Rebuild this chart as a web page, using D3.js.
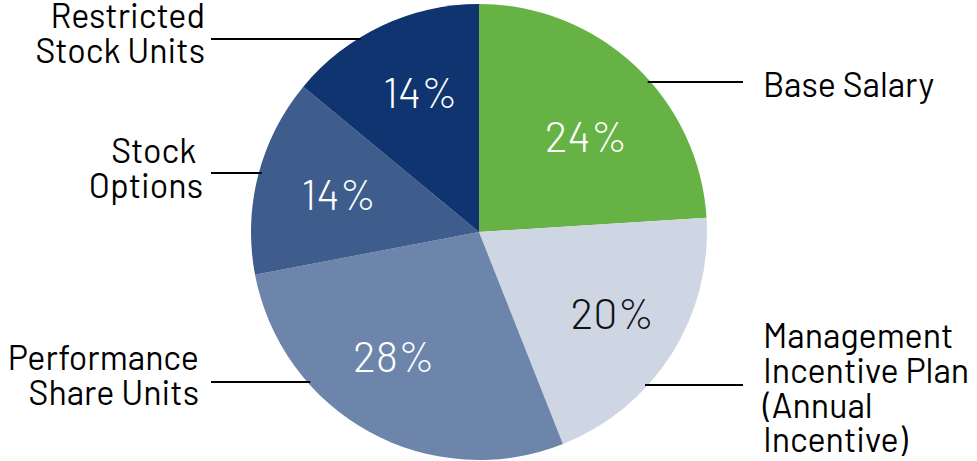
<!DOCTYPE html>
<html><head><meta charset="utf-8">
<script src="https://cdn.jsdelivr.net/npm/d3@7"></script>
<style>html,body{margin:0;padding:0;background:#fff;}svg{display:block;}</style>
</head><body>
<svg id="chart" width="977" height="461"></svg>
<script>
const categories = ["Base Salary", "Management Incentive Plan (Annual Incentive)", "Performance Share Units", "Stock Options", "Restricted Stock Units"];
const values = [24, 20, 28, 14, 14];
const labelLines = [["Base Salary"], ["Management", "Incentive Plan", "(Annual", "Incentive)"], ["Performance", "Share Units"], ["Stock ", "Options"], ["Restricted", "Stock Units"]];
const colors = ["#66b245", "#ced6e3", "#6d84ab", "#3e5d8c", "#0f346f"];
const pctColors = ["#ffffff", "#111111", "#ffffff", "#ffffff", "#ffffff"];

const svg = d3.select("#chart");
const cx = 479, cy = 232, R = 228;
const g = svg.append("g").attr("transform", `translate(${cx},${cy})`);
const pie = d3.pie().sort(null).value(d => d)(values);
const arc = d3.arc().innerRadius(0).outerRadius(R);
const labelArc = d3.arc().innerRadius(152).outerRadius(152);
// small manual nudges of percentage labels (layout only)
const nudges = [[3, 15], [5, 0], [-12, -9], [7, 0], [6, -2]];

g.selectAll("path.slice").data(pie).join("path")
  .attr("class", "slice")
  .attr("d", arc)
  .attr("fill", (d, i) => colors[i]);

const fontFam = "Barlow, Roboto, 'Noto Sans', sans-serif";
g.selectAll("text.pct").data(pie).join("text")
  .attr("class", "pct")
  .attr("transform", (d, i) => {
    const c = labelArc.centroid(d);
    return `translate(${c[0] + nudges[i][0]},${c[1] + nudges[i][1]})`;
  })
  .attr("text-anchor", "middle")
  .attr("dy", "0.36em")
  .attr("font-family", fontFam)
  .attr("font-weight", 300)
  .attr("font-size", 43)
  .attr("fill", (d, i) => pctColors[i])
  .text(d => d.data + "%");

const callouts = [
  {y: 82, side: "right", tx: 763, b: 97},
  {y: 385, side: "right", tx: 763, b: 348},
  {y: 382, side: "left", tx: 199, b: 370},
  {y: 173, side: "left", tx: 203, b: 163},
  {y: 39, side: "left", tx: 205, b: 28}
];
const lh = 34.8;
callouts.forEach((c, i) => {
  const dy = c.y - cy;
  const dx = Math.sqrt(R * R - dy * dy);
  const x1 = c.side === "right" ? cx + dx - 3 : cx - dx + 3;
  const x2 = c.side === "right" ? 743 : 211;
  svg.append("line")
    .attr("x1", x1).attr("x2", x2).attr("y1", c.y).attr("y2", c.y)
    .attr("stroke", "#000").attr("stroke-width", 2);
  const t = svg.append("text")
    .attr("font-family", fontFam)
    .attr("font-size", 34)
    .attr("fill", "#000")
    .attr("text-anchor", c.side === "right" ? "start" : "end");
  labelLines[i].forEach((s, j) => {
    t.append("tspan").attr("x", c.tx).attr("y", c.b + j * lh).text(s);
  });
});
</script>
</body></html>
